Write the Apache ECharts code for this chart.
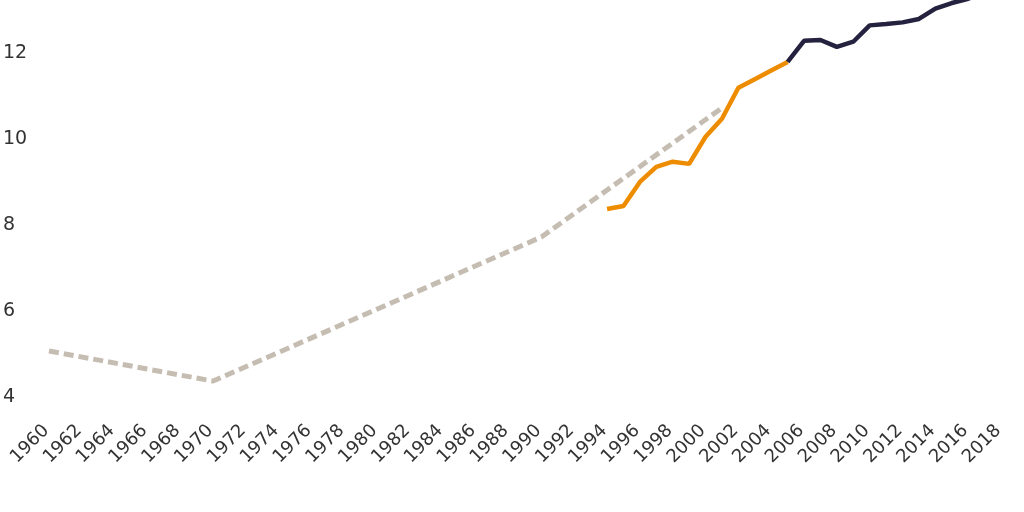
<!DOCTYPE html>
<html>
<head>
<meta charset="utf-8">
<script src="https://cdn.jsdelivr.net/npm/echarts@6/dist/echarts.min.js"></script>
<style>
	html, body { margin: 0; padding: 0; background: #fff; }
	#chart { width: 1024px; height: 512px; }
</style>
</head>
<body>
<div id="chart"></div>
<script>
// 연도 (카테고리)
var years = [];
for (var y = 1960; y <= 2018; y++) {
	years.push(String(y));
}

// 점선 추세 (꺾이는 연도만 값이 있음)
var trendYears = ['1960', '1970', '1990', '2001'];
var trendValues = [5.07, 4.37, 7.72, 10.72];

// 주황색 구간 1994-2005
var midYears = ['1994', '1995', '1996', '1997', '1998', '1999', '2000', '2001', '2002', '2003', '2004', '2005'];
var midValues = [8.37, 8.44, 9.0, 9.35, 9.47, 9.42, 10.05, 10.47, 11.19, 11.39, 11.59, 11.79];

// 남색 구간 2005-2018
var recentYears = ['2005', '2006', '2007', '2008', '2009', '2010', '2011', '2012', '2013', '2014', '2015', '2016', '2017', '2018'];
var recentValues = [11.79, 12.28, 12.30, 12.14, 12.26, 12.64, 12.67, 12.71, 12.79, 13.03, 13.16, 13.26, 13.4, 13.5];

// y축 범위 (위쪽은 잘려 있음)
var yMin = 4;
var yMax = 13.23;

// 연도별 배열로 펼치기
function spread(keys, values) {
	var out = years.map(function() { return null; });
	keys.forEach(function(k, i) {
		out[years.indexOf(k)] = values[i];
	});
	return out;
}

var chart = echarts.init(document.getElementById('chart'));

var textColor = '#333333';
var font = 'DejaVu Sans';

var option = {
	animation: false,
	grid: {
		left: 44,
		right: 23,
		top: 0,
		bottom: 115
	},
	xAxis: {
		type: 'category',
		data: years,
		boundaryGap: false,
		axisLine: { show: false },
		axisTick: { show: false },
		axisLabel: {
			interval: 1,
			rotate: 45,
			margin: 28,
			padding: [0, 4, 0, 0],
			color: textColor,
			fontFamily: font,
			fontSize: 18
		}
	},
	yAxis: {
		type: 'value',
		min: yMin,
		max: yMax,
		interval: 2,
		axisLine: { show: false },
		axisTick: { show: false },
		splitLine: { show: false },
		axisLabel: {
			align: 'left',
			margin: 46,
			showMaxLabel: false,
			color: textColor,
			fontFamily: font,
			fontSize: 19
		}
	},
	series: [{
		name: 'trend',
		type: 'line',
		data: spread(trendYears, trendValues),
		connectNulls: true,
		showSymbol: false,
		lineStyle: {
			color: '#c5bdb2',
			width: 5,
			type: [10, 5]
		}
	},
	{
		name: 'mid',
		type: 'line',
		data: spread(midYears, midValues),
		showSymbol: false,
		lineStyle: {
			color: '#ee8c00',
			width: 4.5
		}
	},
	{
		name: 'recent',
		type: 'line',
		data: spread(recentYears, recentValues),
		showSymbol: false,
		lineStyle: {
			color: '#25223f',
			width: 4.5
		}
	}]
};

chart.setOption(option);
</script>
</body>
</html>
